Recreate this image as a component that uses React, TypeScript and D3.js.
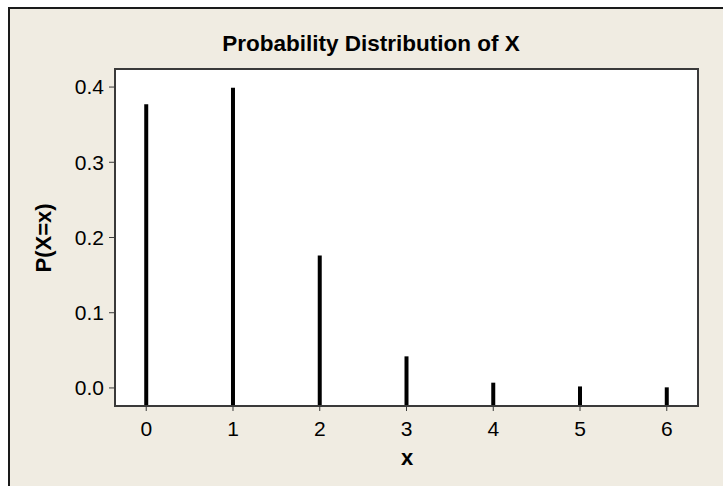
import React from 'react';
import * as d3 from 'd3';

const xValues = [0, 1, 2, 3, 4, 5, 6];
const probabilities = [0.377, 0.399, 0.176, 0.042, 0.007, 0.002, 0.0008];
const yTicks = [0.0, 0.1, 0.2, 0.3, 0.4];
const xTicks = [0, 1, 2, 3, 4, 5, 6];

const W = 723;
const H = 486;
const plot = { left: 115, right: 698, top: 69, bottom: 406 };
const font = '"Liberation Sans", Arial, sans-serif';

const App = () => {
  const x = d3.scaleLinear().domain([-0.36, 6.36]).range([plot.left, plot.right]);
  const y = d3.scaleLinear().domain([-0.024, 0.424]).range([plot.bottom, plot.top]);

  return (
    <svg
      width={W}
      height={H}
      style={{ position: 'absolute', left: 0, top: 0 }}
      fontFamily={font}
    >
      <rect x={0} y={0} width={W} height={H} fill="#ffffff" />
      <rect x={9} y={8} width={W + 20} height={H + 20} fill="#f0ece2" stroke="#1a1a1a" strokeWidth={2} />

      <text x={371} y={51} textAnchor="middle" fontSize={22.5} fontWeight="bold" fill="#000">
        Probability Distribution of X
      </text>

      <rect
        x={plot.left}
        y={plot.top}
        width={plot.right - plot.left}
        height={plot.bottom - plot.top}
        fill="#ffffff"
        stroke="#3a3a3a"
        strokeWidth={2}
      />

      {xValues.map((v, i) => (
        <line
          key={v}
          x1={x(v)}
          x2={x(v)}
          y1={plot.bottom - 1}
          y2={y(probabilities[i])}
          stroke="#000"
          strokeWidth={4}
        />
      ))}

      {yTicks.map((t) => (
        <g key={t}>
          <line x1={plot.left - 6} x2={plot.left} y1={y(t)} y2={y(t)} stroke="#3a3a3a" strokeWidth={1} />
          <text x={plot.left - 11} y={y(t)} dy="0.35em" textAnchor="end" fontSize={21} fill="#000">
            {d3.format('.1f')(t)}
          </text>
        </g>
      ))}

      {xTicks.map((t) => (
        <g key={t}>
          <line x1={x(t)} x2={x(t)} y1={plot.bottom} y2={plot.bottom + 5} stroke="#3a3a3a" strokeWidth={1} />
          <text x={x(t)} y={436} textAnchor="middle" fontSize={21} fill="#000">
            {t}
          </text>
        </g>
      ))}

      <text x={407} y={465} textAnchor="middle" fontSize={22} fontWeight="bold" fill="#000">
        x
      </text>
      <text
        transform={`translate(51, 238) rotate(-90)`}
        textAnchor="middle"
        fontSize={22}
        fontWeight="bold"
        fill="#000"
      >
        P(X=x)
      </text>
    </svg>
  );
};

export default App;
